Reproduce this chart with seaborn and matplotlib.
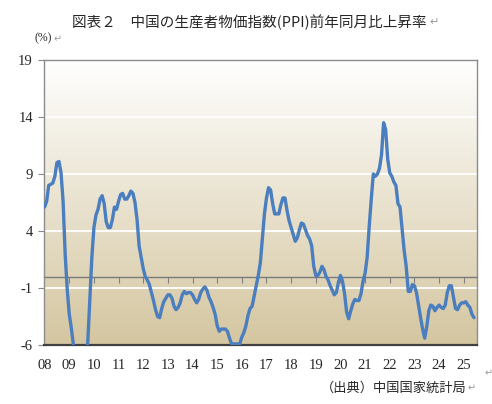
import numpy as np
import pandas as pd
import matplotlib
matplotlib.use("Agg")
import matplotlib.pyplot as plt
import seaborn as sns

# China PPI, year-on-year change (%), monthly from Jan 2008 to Jun 2025
ppi_2008 = [6.1, 6.6, 8.0, 8.1, 8.2, 8.8, 10.0, 10.1, 9.1, 6.6, 2.0, -1.1]
ppi_2009 = [-3.3, -4.5, -6.0, -6.6, -7.2, -7.8, -8.2, -7.9, -7.0, -5.8, -2.1, 1.7]
ppi_2010 = [4.3, 5.4, 5.9, 6.8, 7.1, 6.4, 4.8, 4.3, 4.3, 5.0, 6.1, 5.9]
ppi_2011 = [6.6, 7.2, 7.3, 6.8, 6.8, 7.1, 7.5, 7.3, 6.5, 5.0, 2.7, 1.7]
ppi_2012 = [0.7, 0.0, -0.3, -0.7, -1.4, -2.1, -2.9, -3.5, -3.6, -2.8, -2.2, -1.9]
ppi_2013 = [-1.6, -1.6, -1.9, -2.6, -2.9, -2.7, -2.3, -1.6, -1.3, -1.5, -1.4, -1.4]
ppi_2014 = [-1.6, -2.0, -2.3, -2.0, -1.4, -1.1, -0.9, -1.2, -1.8, -2.2, -2.7, -3.3]
ppi_2015 = [-4.3, -4.8, -4.6, -4.6, -4.6, -4.8, -5.4, -5.9, -5.9, -5.9, -5.9, -5.9]
ppi_2016 = [-5.3, -4.9, -4.3, -3.4, -2.8, -2.6, -1.7, -0.8, 0.1, 1.2, 3.3, 5.5]
ppi_2017 = [6.9, 7.8, 7.6, 6.4, 5.5, 5.5, 5.5, 6.3, 6.9, 6.9, 5.8, 4.9]
ppi_2018 = [4.3, 3.7, 3.1, 3.4, 4.1, 4.7, 4.6, 4.1, 3.6, 3.3, 2.7, 0.9]
ppi_2019 = [0.1, 0.1, 0.4, 0.9, 0.6, 0.0, -0.3, -0.8, -1.2, -1.6, -1.4, -0.5]
ppi_2020 = [0.1, -0.4, -1.5, -3.1, -3.7, -3.0, -2.4, -2.0, -2.1, -2.1, -1.5, -0.4]
ppi_2021 = [0.3, 1.7, 4.4, 6.8, 9.0, 8.8, 9.0, 9.5, 10.7, 13.5, 12.9, 10.3]
ppi_2022 = [9.1, 8.8, 8.3, 8.0, 6.4, 6.1, 4.2, 2.3, 0.9, -1.3, -1.3, -0.7]
ppi_2023 = [-0.8, -1.4, -2.5, -3.6, -4.6, -5.4, -4.4, -3.0, -2.5, -2.6, -3.0, -2.7]
ppi_2024 = [-2.5, -2.7, -2.8, -2.5, -1.4, -0.8, -0.8, -1.8, -2.8, -2.9, -2.5, -2.3]
ppi_2025 = [-2.3, -2.2, -2.5, -2.7, -3.3, -3.6]

year_labels = ["08", "09", "10", "11", "12", "13", "14", "15", "16",
               "17", "18", "19", "20", "21", "22", "23", "24", "25"]
y_ticks = [-6, -1, 4, 9, 14, 19]

values = (ppi_2008 + ppi_2009 + ppi_2010 + ppi_2011 + ppi_2012 + ppi_2013
          + ppi_2014 + ppi_2015 + ppi_2016 + ppi_2017 + ppi_2018 + ppi_2019
          + ppi_2020 + ppi_2021 + ppi_2022 + ppi_2023 + ppi_2024 + ppi_2025)
df = pd.DataFrame({"month": np.arange(len(values)), "ppi": values})

sns.set_style("white")
plt.rcParams["font.family"] = ["Noto Sans CJK JP", "DejaVu Sans"]
num_font = ["Liberation Serif", "DejaVu Serif"]
jp_font = ["Noto Sans CJK JP", "DejaVu Sans"]

fig = plt.figure(figsize=(4.92, 4.04), dpi=100)
ax = fig.add_axes([0.0894, 0.146, 0.8811, 0.7055])

# gradient fill: white at top, tan at bottom
top_c = np.array([255, 255, 255]) / 255
bot_c = np.array([212, 198, 160]) / 255
t = np.linspace(0, 1, 256)[:, None]
grad = (top_c[None, :] * (1 - t) + bot_c[None, :] * t)[:, None, :]
ax.imshow(grad, extent=[0, 1, 0, 1], transform=ax.transAxes,
          aspect="auto", zorder=0, interpolation="bilinear")

# white gridlines
for yv in y_ticks[1:-1]:
    ax.axhline(yv, color="white", lw=1.3, zorder=1)

sns.lineplot(data=df, x="month", y="ppi", ax=ax, color="#4A7EBF",
             lw=2.4, zorder=3)

ax.set_xlim(-0.3, 210.7)
ax.set_ylim(-6, 19)
ax.set_yticks(y_ticks)
ax.set_yticklabels([str(v) for v in y_ticks], family=num_font, fontsize=10.5)
xt = np.arange(len(year_labels)) * 12
ax.set_xticks(xt)
ax.set_xticklabels(year_labels, family=num_font, fontsize=10.5)
ax.tick_params(axis="x", length=0, pad=10)
ax.tick_params(axis="y", length=4, color="#888888", direction="out", pad=4,
               left=True)
ax.set_xlabel("")
ax.set_ylabel("")

for side in ["top", "right", "left"]:
    ax.spines[side].set_color("#8c8c8c")
    ax.spines[side].set_linewidth(1.0)
ax.spines["bottom"].set_color("#404040")
ax.spines["bottom"].set_linewidth(1.6)

# zero axis line with year ticks
zero_pos = (0 - (-6)) / 25
sec = ax.secondary_xaxis(zero_pos)
sec.set_xticks(xt[1:])
sec.set_xticklabels([])
sec.tick_params(length=4, color="#808080", direction="out", width=0.8)
sec.spines["bottom"].set_color("#7a7a7a")
sec.spines["bottom"].set_linewidth(1.0)
sec.set_zorder(2)

fig.text(0.506, 0.945, "図表２　中国の生産者物価指数(PPI)前年同月比上昇率",
         ha="center", va="center", fontsize=10.5, family=jp_font)
fig.text(0.872, 0.945, "↵", ha="left", va="center", fontsize=8,
         color="#9a9a9a", family=jp_font)
fig.text(0.071, 0.906, "(%)", ha="left", va="center", fontsize=8.5,
         family=num_font)
fig.text(0.108, 0.904, "↵", ha="left", va="center", fontsize=7,
         color="#9a9a9a", family=jp_font)
fig.text(0.948, 0.04, "（出典）中国国家統計局", ha="right", va="center",
         fontsize=9.5, family=jp_font)
fig.text(0.950, 0.04, "↵", ha="left", va="center", fontsize=7,
         color="#9a9a9a", family=jp_font)
fig.text(0.985, 0.075, "↵", ha="left", va="center", fontsize=7,
         color="#9a9a9a", family=jp_font)

plt.savefig("out.png", dpi=100)
